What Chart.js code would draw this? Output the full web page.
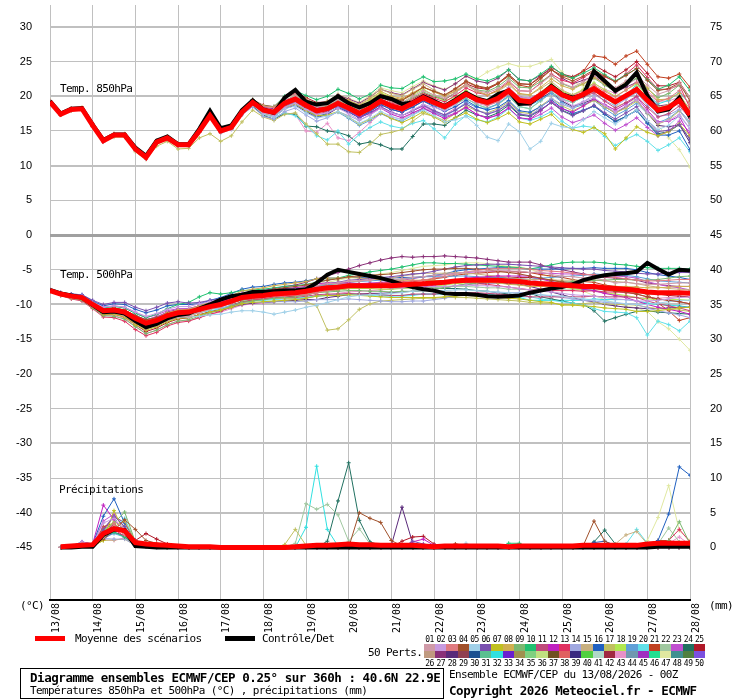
<!DOCTYPE html>
<html><head><meta charset="utf-8">
<script src="https://cdn.jsdelivr.net/npm/chart.js@4.4.1/dist/chart.umd.min.js"></script>
<style>
body{margin:0;background:#fff;width:740px;height:700px;overflow:hidden;position:relative;}
#c{position:absolute;left:0;top:0;}
.t{position:absolute;font-family:"DejaVu Sans Mono",monospace;font-size:11px;letter-spacing:-0.6px;line-height:12px;white-space:nowrap;color:#000;}
.b{font-weight:bold;font-size:12.5px;letter-spacing:-0.45px;line-height:14px;}
.n{position:absolute;font-family:"DejaVu Sans Mono",monospace;font-size:8px;letter-spacing:-0.5px;line-height:8px;text-align:center;width:11.24px;color:#000;}
.sw{position:absolute;width:11.24px;}
</style></head><body>
<canvas id="c" width="740" height="640"></canvas>
<div class="t" style="left:60px;top:83px">Temp. 850hPa</div>
<div class="t" style="left:60px;top:269px">Temp. 500hPa</div>
<div class="t" style="left:59px;top:484px">Précipitations</div>
<div class="t" style="left:20px;top:600px">(°C)</div>
<div class="t" style="left:709px;top:600px">(mm)</div>
<div style="position:absolute;left:35px;top:636px;width:30px;height:5px;background:#ff0000"></div>
<div class="t" style="left:75px;top:633px">Moyenne des scénarios</div>
<div style="position:absolute;left:225px;top:636px;width:30px;height:5px;background:#000"></div>
<div class="t" style="left:262px;top:633px">Contrôle/Det</div>
<div class="t" style="left:368px;top:647px">50 Perts.</div>
<div id="leg"></div>
<div style="position:absolute;left:20px;top:668px;width:422px;height:29px;border:1px solid #000"></div>
<div class="t b" style="left:30px;top:671px">Diagramme ensembles ECMWF/CEP 0.25° sur 360h : 40.6N 22.9E</div>
<div class="t" style="left:30px;top:685px">Températures 850hPa et 500hPa (°C) , précipitations (mm)</div>
<div class="t" style="left:449px;top:669px">Ensemble ECMWF/CEP du 13/08/2026 - 00Z</div>
<div class="t b" style="left:449px;top:684px">Copyright 2026 Meteociel.fr - ECMWF</div>
<script>
const dayLabels = ['13/08','14/08','15/08','16/08','17/08','18/08','19/08','20/08','21/08','22/08','23/08','24/08','25/08','26/08','27/08','28/08'];
const dayHours = [0,24,48,72,96,120,144,168,192,216,240,264,288,312,336,360];
const hours = [0,6,12,18,24,30,36,42,48,54,60,66,72,78,84,90,96,102,108,114,120,126,132,138,144,150,156,162,168,174,180,186,192,198,204,210,216,222,228,234,240,246,252,258,264,270,276,282,288,294,300,306,312,318,324,330,336,342,348,354,360];
const leftTicks = [30,25,20,15,10,5,0,-5,-10,-15,-20,-25,-30,-35,-40,-45];
const rightTicks = [75,70,65,60,55,50,45,40,35,30,25,20,15,10,5,0];

const t850Mean = [19.2,17.4,18.1,18.2,15.8,13.6,14.4,14.4,12.4,11.2,13.4,14.0,13.0,13.0,15.0,17.2,15.0,15.5,17.7,19.1,18.0,17.7,19.0,19.6,18.7,17.9,18.2,19.0,18.3,17.5,18.3,19.3,18.6,18.2,19.0,19.8,19.1,18.5,19.3,20.3,19.5,19.1,19.7,20.8,19.4,19.2,20.2,21.3,20.2,19.6,20.3,21.1,20.1,19.2,20.1,21.0,19.4,18.0,18.4,19.4,17.3];
const t850Ctrl = [19.3,17.5,18.2,18.3,15.9,13.7,14.5,14.5,12.6,11.4,13.6,14.2,13.1,13.1,15.3,17.9,15.4,15.8,18.0,19.4,18.1,17.6,19.8,20.9,19.2,18.8,19.0,20.0,19.0,18.4,19.0,20.0,19.6,18.9,19.1,20.0,19.3,18.6,19.5,20.5,19.7,19.3,20.3,20.8,18.9,19.0,20.1,21.5,20.3,19.8,20.2,23.6,22.2,20.8,21.7,23.4,20.1,17.8,18.1,19.8,17.0];
const t500Mean = [-8.0,-8.5,-8.8,-9.0,-10.0,-10.9,-10.8,-11.1,-12.0,-12.7,-12.3,-11.6,-11.2,-11.1,-10.7,-10.3,-10.0,-9.5,-9.0,-8.8,-8.7,-8.5,-8.4,-8.3,-8.1,-7.8,-7.6,-7.5,-7.3,-7.3,-7.3,-7.3,-7.3,-7.2,-7.1,-7.0,-6.9,-6.8,-6.6,-6.5,-6.5,-6.5,-6.5,-6.6,-6.7,-6.9,-7.0,-7.1,-7.2,-7.3,-7.4,-7.4,-7.6,-7.7,-7.8,-8.0,-8.2,-8.3,-8.3,-8.3,-8.4];
const t500Ctrl = [-7.9,-8.4,-8.7,-9.0,-10.1,-11.1,-11.0,-11.3,-12.4,-13.3,-12.8,-12.0,-11.5,-11.3,-10.6,-10.0,-9.3,-8.8,-8.6,-8.2,-8.2,-8.1,-8.0,-8.0,-7.8,-6.9,-5.7,-5.0,-5.3,-5.6,-5.9,-6.2,-6.6,-7.1,-7.5,-7.8,-8.0,-8.4,-8.5,-8.5,-8.6,-8.8,-8.9,-8.8,-8.7,-8.3,-8.0,-7.7,-7.5,-7.1,-6.5,-6.1,-5.8,-5.6,-5.5,-5.3,-4.0,-4.9,-5.7,-5.0,-5.1];
const precMean = [null,0.1,0.2,0.3,0.4,2.0,2.7,2.4,0.7,0.5,0.4,0.3,0.2,0.1,0.1,0.1,0,0,0,0,0,0,0,0.1,0.2,0.3,0.3,0.4,0.5,0.4,0.4,0.3,0.3,0.3,0.3,0.2,0.1,0.2,0.2,0.2,0.2,0.2,0.2,0.1,0.2,0.2,0.2,0.2,0.2,0.2,0.3,0.3,0.3,0.3,0.3,0.3,0.5,0.6,0.6,0.6,0.6];
const precCtrl = [null,0,0,0.1,0.1,1.8,2.6,2.5,0.2,0.1,0,0,0,0,0,0,0,0,0,0,0,0,0,0,0,0,0,0,0,0,0,0,0,0,0,0,0,0,0,0,0,0,0,0,0,0,0,0,0,0,0,0,0,0,0,0,0,0.1,0.1,0.1,0.1];

const memberIds = [1,2,3,4,5,6,7,8,9,10,11,12,13,14,15,16,17,18,19,20,21,22,23,24,25,27,28,32,43,47];

const t850Members = [
[19.3,17.6,18.1,18.3,16.1,13.8,14.4,14.5,12.7,11.4,13.5,14.0,13.2,13.1,15.3,17.4,15.1,15.5,17.9,19.3,18.3,18.0,19.4,20.0,19.2,18.4,18.8,19.5,18.9,18.2,19.0,20.1,19.5,19.1,20.0,20.8,20.2,19.7,20.5,21.6,20.8,20.5,21.1,22.3,20.8,20.7,21.8,23.0,21.9,21.3,22.1,23.0,22.0,21.2,22.2,23.0,21.6,20.3,20.8,21.9,19.8],
[19.0,17.3,18.0,18.0,15.6,13.4,14.3,14.2,12.2,11.0,13.3,13.8,12.8,12.9,14.8,17.0,14.8,15.3,17.4,18.8,17.6,17.2,18.4,19.0,18.1,17.4,17.6,18.3,17.5,16.6,17.3,18.3,17.6,17.2,18.0,18.8,18.4,17.9,18.9,20.1,19.5,19.3,20.0,21.2,19.9,19.7,20.3,21.0,19.6,18.6,19.2,19.8,18.7,17.7,18.6,19.5,17.7,16.2,16.5,17.4,15.3],
[19.2,17.5,18.3,18.2,15.9,13.5,14.6,14.5,12.5,11.3,13.6,14.1,13.1,13.2,15.1,17.3,15.2,15.7,17.9,19.4,18.5,18.4,19.8,20.4,19.5,18.7,18.9,19.7,18.9,18.1,18.9,19.9,19.2,18.7,19.5,20.3,19.5,18.8,19.4,20.2,19.2,18.7,19.2,20.3,18.9,18.7,19.9,21.2,20.2,19.8,20.6,21.6,20.7,19.9,20.9,22.0,20.5,19.2,19.7,20.8,18.8],
[19.2,17.4,18.2,18.3,15.7,13.5,14.3,14.4,12.3,11.1,13.3,14.0,12.9,12.9,14.9,17.1,15.0,15.4,17.6,19.0,17.8,17.5,18.8,19.3,18.4,17.6,18.1,19.1,18.6,17.9,18.9,20.1,19.6,19.4,20.3,21.3,20.7,20.2,21.1,22.2,21.5,21.2,21.9,23.1,21.8,21.7,22.7,23.8,22.8,22.2,22.9,23.8,22.9,22.1,23.0,24.0,22.3,20.8,21.1,21.9,19.3],
[19.1,17.3,18.0,18.1,15.7,13.5,14.5,14.3,12.3,11.2,13.3,13.9,12.9,12.9,14.8,17.0,14.9,15.3,17.4,18.7,17.4,17.0,18.2,18.6,17.6,16.9,17.1,17.8,17.0,16.1,16.8,17.8,17.1,16.6,17.3,18.0,17.2,16.3,16.6,17.1,15.8,14.1,13.6,16.0,14.9,12.4,13.5,16.1,15.6,15.4,16.6,17.8,16.9,16.0,17.0,18.0,16.5,15.2,15.8,17.2,15.3],
[19.3,17.5,18.1,18.2,15.9,13.7,14.4,14.3,12.5,11.3,13.4,14.1,13.1,13.0,15.1,17.3,15.1,15.6,17.8,19.0,17.9,17.6,18.8,19.4,18.5,17.8,17.9,18.6,17.8,16.9,17.6,18.5,17.7,17.2,17.9,18.7,17.9,17.3,18.0,18.9,18.0,17.4,17.9,18.9,17.4,17.2,18.1,19.1,17.9,17.2,17.9,18.7,17.6,16.7,17.6,18.5,16.5,14.9,15.1,15.9,13.8],
[19.1,17.3,18.0,18.1,15.7,13.5,14.3,14.3,12.3,11.1,13.2,13.8,12.8,12.8,14.8,17.0,14.8,15.3,17.5,18.8,17.5,17.2,18.4,18.9,17.9,17.2,17.3,17.8,17.0,16.0,16.7,17.6,16.8,16.2,16.9,17.8,17.0,16.2,16.9,17.6,16.7,16.2,16.8,17.6,16.3,16.0,16.7,17.4,15.9,15.2,14.8,15.5,14.6,12.4,14.0,15.6,14.8,14.3,14.9,16.0,14.3],
[19.4,17.6,18.3,18.4,16.0,13.8,14.6,14.6,12.6,11.4,13.6,14.2,13.2,13.2,15.2,17.5,15.3,15.8,18.0,19.5,18.6,18.4,19.8,20.5,19.6,18.9,19.2,20.1,19.4,18.7,19.6,20.7,20.0,19.7,20.5,21.3,20.6,20.0,20.7,21.6,20.7,20.2,20.8,21.9,20.4,20.2,21.3,22.5,21.5,21.0,21.8,22.7,21.8,21.0,22.0,23.0,21.2,19.5,19.6,20.4,17.8],
[19.2,17.4,18.2,18.3,15.9,13.7,14.5,14.5,12.5,11.3,13.5,14.1,13.1,13.1,15.1,17.3,15.1,15.6,17.8,19.2,18.1,17.9,19.2,19.8,18.9,18.1,18.6,19.4,18.8,18.0,18.8,19.9,19.3,19.0,19.8,20.6,20.0,19.6,20.5,21.6,20.9,20.7,21.4,22.6,21.3,21.2,22.1,23.0,21.8,21.2,21.8,22.6,21.6,20.7,21.7,22.6,21.1,19.8,20.4,21.6,19.8],
[19.3,17.5,18.2,18.3,15.9,13.7,14.5,14.5,12.5,11.3,13.5,14.1,13.1,13.1,15.2,17.4,15.2,15.7,18.0,19.5,18.6,18.5,20.0,20.8,20.1,19.5,20.0,21.0,20.4,19.6,20.3,21.6,21.2,21.1,22.0,22.8,22.1,22.2,22.5,23.2,22.5,22.2,22.8,23.8,22.4,22.2,23.2,24.3,23.2,22.6,23.3,24.1,23.1,22.2,23.1,24.0,22.4,21.0,21.6,22.8,20.8],
[19.1,17.3,18.0,18.1,15.7,13.5,14.3,14.4,12.4,11.1,13.4,14.0,12.9,12.9,14.9,17.1,14.9,15.4,17.6,18.9,17.7,17.3,18.6,19.2,18.2,17.4,17.8,18.7,18.0,17.2,18.0,19.0,18.3,17.9,18.7,19.5,18.9,18.3,19.2,20.3,19.6,19.3,20.0,21.2,19.9,19.7,20.5,21.4,20.1,19.3,19.9,20.5,19.3,18.3,19.1,20.0,18.4,17.0,17.5,18.6,16.8],
[19.3,17.5,18.2,18.2,15.9,13.6,14.5,14.4,12.5,11.2,13.4,14.0,13.0,13.1,15.1,17.3,15.1,15.6,17.8,19.3,18.3,18.1,19.4,20.0,19.1,18.4,18.4,18.9,18.0,17.0,17.5,18.3,17.4,16.9,17.6,18.3,17.5,16.8,17.5,18.4,17.4,16.8,17.3,18.3,16.9,16.7,17.9,19.2,18.2,17.7,18.6,19.6,18.8,18.0,18.9,19.9,18.0,16.3,16.4,17.1,14.3],
[19.2,17.4,18.1,18.1,15.7,13.5,14.4,14.3,12.3,11.1,13.3,13.9,12.9,13.0,14.9,17.1,14.9,15.4,17.6,18.9,17.8,17.5,18.7,19.3,18.4,17.6,18.0,18.9,18.3,17.6,18.5,19.6,19.0,18.7,19.5,20.3,19.7,19.2,20.1,21.2,20.5,20.2,20.9,22.1,20.8,20.7,21.9,23.2,22.3,21.9,22.7,23.6,22.8,22.1,23.2,24.5,22.7,21.0,21.0,21.6,18.3],
[19.1,17.3,18.0,18.1,15.6,13.4,14.3,14.2,12.2,11.0,13.2,13.8,12.8,12.8,14.8,16.9,14.7,15.2,17.3,18.5,17.1,16.7,17.8,18.3,17.3,16.4,16.9,17.8,17.2,16.5,17.3,18.3,17.6,17.2,18.0,18.8,18.0,17.3,18.0,18.9,18.0,17.5,18.0,19.0,17.5,17.2,18.4,19.7,18.8,18.3,19.2,20.2,19.4,18.6,19.6,20.5,18.7,17.1,17.3,18.1,15.8],
[19.2,17.5,18.1,18.2,15.8,13.6,14.4,14.5,12.5,11.3,13.4,14.0,13.0,13.1,15.0,17.2,15.1,15.6,17.8,19.2,18.1,17.8,19.2,19.8,18.9,18.2,18.8,19.9,19.4,18.8,19.8,21.0,20.4,20.1,21.0,21.8,20.9,20.1,20.8,21.7,20.8,20.2,20.7,21.7,20.3,20.2,21.1,22.1,20.9,20.2,20.8,21.5,20.3,19.3,20.1,21.0,19.6,18.3,18.8,19.9,18.3],
[19.2,17.4,18.0,18.2,15.8,13.6,14.4,14.4,12.4,11.2,13.3,14.0,13.0,12.9,15.0,17.1,14.9,15.4,17.5,18.8,17.6,17.2,18.4,18.9,17.9,17.1,17.5,18.4,17.7,16.9,17.8,18.8,18.1,17.7,18.4,19.3,18.5,17.8,18.5,19.4,18.5,18.0,18.4,19.4,17.9,17.7,18.5,19.5,18.3,17.5,18.0,18.6,17.4,16.3,17.1,17.9,16.1,14.4,14.4,15.0,12.3],
[19.1,17.3,17.9,18.0,15.6,13.4,14.1,14.1,12.0,10.9,12.8,13.5,12.4,12.5,14.0,14.6,13.5,14.3,16.3,18.0,17.0,16.5,17.4,17.6,16.0,14.6,13.1,13.1,12.0,11.9,13.1,14.5,14.8,15.2,16.4,17.5,17.1,16.5,17.5,18.6,17.9,17.6,18.2,19.2,17.7,17.5,18.6,19.7,18.6,17.9,18.6,19.4,18.5,17.6,18.3,19.3,17.6,16.0,16.6,17.9,16.0],
[19.3,17.5,18.2,18.3,15.9,13.7,14.5,14.5,12.6,11.4,13.5,14.1,13.1,13.1,15.1,17.3,15.1,15.6,17.8,19.2,18.2,18.0,19.4,20.1,19.2,18.5,18.9,19.8,19.2,18.5,19.4,20.5,19.8,19.4,20.2,21.0,20.1,19.3,19.9,20.8,19.9,19.4,20.0,21.1,19.7,19.5,20.6,21.8,20.7,20.2,21.0,21.9,20.9,20.0,20.9,21.8,20.0,18.4,18.6,19.3,16.8],
[19.2,17.4,18.1,18.2,15.8,13.6,14.3,14.4,12.4,11.2,13.4,14.0,13.0,13.0,14.9,17.2,15.0,15.5,17.7,19.0,17.8,17.4,18.6,19.1,18.0,17.2,17.2,17.7,16.8,15.8,16.5,17.5,16.8,16.4,17.3,18.2,17.6,17.1,18.0,19.1,18.4,18.2,18.9,20.1,18.8,18.7,19.5,20.4,19.1,18.3,18.8,19.4,18.2,17.2,18.0,19.0,17.5,16.2,16.8,18.0,16.3],
[19.2,17.4,18.1,18.2,15.8,13.5,14.4,14.3,12.4,11.2,13.3,13.9,12.9,13.0,14.9,17.0,14.9,15.4,17.5,18.8,17.5,17.0,17.6,17.2,15.8,14.3,13.7,15.0,13.1,14.5,15.5,16.3,15.7,15.4,16.1,16.5,15.3,14.0,16.0,17.2,16.6,16.3,17.0,18.2,16.9,16.5,17.0,17.8,16.4,15.4,15.7,15.5,14.2,12.9,13.8,14.5,13.5,12.2,13.0,14.0,12.0],
[19.3,17.5,18.1,18.3,15.9,13.7,14.4,14.5,12.4,11.3,13.5,14.0,13.1,13.1,15.1,17.3,15.1,15.6,17.8,19.2,18.2,17.9,19.3,19.9,19.1,18.4,18.8,19.7,19.1,18.4,19.3,20.4,19.8,19.5,20.4,21.3,20.7,20.1,21.0,22.1,21.4,21.1,21.8,22.9,21.6,21.3,22.5,23.8,23.0,22.6,23.6,25.8,25.6,24.6,25.8,26.5,24.6,22.8,22.6,23.2,21.3],
[19.1,17.3,18.0,18.1,15.7,13.5,14.4,14.3,12.3,11.1,13.3,13.9,12.9,12.9,14.9,17.1,14.9,15.4,17.6,18.9,17.7,17.3,18.5,19.0,18.1,17.3,17.7,18.6,17.9,17.2,18.1,19.1,18.4,18.0,18.8,19.6,18.8,18.1,18.8,19.7,18.8,18.3,18.8,19.9,18.5,18.2,19.3,20.5,19.6,19.1,19.9,20.8,19.9,19.1,20.2,21.4,19.6,18.1,18.5,19.4,17.3],
[19.2,17.5,18.2,18.2,15.8,13.6,14.5,14.4,12.4,11.3,13.4,14.0,13.1,13.0,15.0,17.3,15.1,15.5,17.7,19.1,18.0,17.8,19.1,19.7,18.8,17.9,17.9,18.6,17.8,16.9,17.6,18.5,17.7,17.2,17.9,18.6,17.8,17.0,17.6,18.4,17.4,16.9,17.3,18.3,16.8,16.7,17.4,18.3,17.0,16.2,16.7,17.3,16.1,15.1,15.9,16.9,15.5,14.3,15.0,16.4,14.8],
[19.2,17.4,18.1,18.2,15.8,13.6,14.4,14.4,12.4,11.2,13.4,14.0,13.0,13.0,15.0,17.2,15.0,15.4,17.5,18.6,17.2,16.7,17.5,17.4,15.7,15.6,15.0,14.8,14.3,13.1,13.4,13.0,12.4,12.4,14.2,16.0,16.0,15.8,16.9,18.0,17.3,17.0,17.6,18.7,17.3,17.1,18.0,19.1,18.0,17.3,17.9,18.6,17.4,16.4,17.1,18.0,16.2,14.6,14.9,15.9,13.8],
[19.3,17.5,18.2,18.3,15.9,13.7,14.5,14.5,12.6,11.3,13.5,14.1,13.1,13.2,15.2,17.4,15.2,15.7,18.0,19.5,18.7,18.5,19.9,20.6,19.8,19.1,19.2,19.8,19.0,18.1,18.9,19.9,19.2,18.8,19.6,20.4,19.9,19.5,20.5,21.8,21.2,21.0,21.8,23.1,21.8,21.7,22.9,24.2,23.2,22.8,23.6,24.5,23.6,22.8,23.8,25.0,23.3,21.5,21.5,22.0,19.8],
[19.3,17.5,18.1,18.2,15.9,13.7,14.5,14.4,12.5,11.3,13.5,14.1,13.1,13.1,15.1,17.3,15.1,15.6,17.9,19.4,18.4,18.2,19.7,20.4,19.6,18.7,19.2,20.2,19.6,19.0,19.9,21.0,20.5,20.2,21.1,22.0,21.4,20.9,21.8,22.9,22.2,21.9,22.6,23.8,22.4,22.2,23.0,23.9,22.6,21.8,22.3,22.9,21.7,20.6,21.3,22.0,20.2,18.6,18.8,19.6,16.8],
[19.1,17.3,18.0,18.1,15.7,13.5,14.3,14.3,12.3,11.1,13.3,13.9,12.9,12.9,14.9,17.1,14.9,15.3,17.4,18.7,17.4,17.0,18.2,18.7,17.8,16.9,17.4,18.3,17.7,17.0,17.8,18.8,18.1,17.7,18.5,19.3,18.7,18.1,19.0,20.0,19.2,18.8,19.4,20.5,19.1,18.9,19.7,20.6,19.3,18.5,19.0,19.6,18.5,17.6,18.5,19.5,17.6,15.8,15.6,15.9,13.3],
[19.2,17.4,18.1,18.2,15.8,13.6,14.4,14.5,12.4,11.2,13.4,14.0,13.0,13.0,15.0,17.2,15.0,15.5,17.7,19.1,18.0,17.7,19.0,19.6,18.7,17.9,18.3,19.2,18.5,17.8,18.6,19.6,18.9,18.4,19.1,19.8,18.9,18.2,18.9,19.7,18.8,18.3,18.9,20.0,18.5,18.2,19.4,20.6,19.6,19.1,19.9,20.8,19.8,18.9,19.9,21.8,20.2,18.9,19.4,20.6,18.8],
[19.2,17.4,18.1,18.2,15.8,13.5,14.3,14.3,12.3,11.1,13.3,13.9,12.9,12.9,14.8,17.0,14.8,15.3,17.4,18.5,17.2,16.7,17.6,17.4,15.0,14.8,16.1,14.0,13.6,14.8,16.2,17.5,17.0,16.7,17.5,18.3,17.8,17.3,18.3,19.6,19.0,18.6,19.2,20.3,18.9,18.7,19.9,21.3,20.4,20.0,20.9,21.8,21.0,20.4,21.6,22.5,20.8,19.3,19.3,19.9,17.8],
[19.2,17.5,18.1,18.3,15.8,13.6,14.4,14.5,12.5,11.2,13.4,14.1,13.1,13.0,15.1,17.3,15.1,15.6,17.8,19.2,18.3,18.1,19.6,20.4,19.5,18.8,19.3,20.3,19.7,19.1,20.1,21.2,20.8,20.5,21.4,22.2,21.5,21.0,21.8,22.9,22.5,23.5,24.2,24.7,24.3,24.3,24.8,25.3,23.5,22.0,21.5,21.6,20.0,18.6,19.0,19.6,17.5,15.8,14.0,12.3,9.8]
];

const t500Members = [
[-7.9,-8.5,-8.9,-9.0,-10.2,-11.2,-11.2,-11.6,-12.6,-13.5,-13.0,-12.3,-11.8,-11.7,-11.2,-10.7,-10.3,-9.7,-9.1,-8.8,-8.6,-8.3,-8.3,-7.9,-7.6,-7.3,-7.0,-6.9,-6.6,-6.6,-6.5,-6.2,-6.4,-6.3,-6.1,-6.0,-5.8,-5.7,-5.6,-5.3,-5.2,-5.2,-5.1,-5.2,-5.2,-5.4,-5.3,-5.7,-5.9,-6.0,-6.2,-6.2,-6.5,-6.9,-6.8,-7.0,-7.1,-7.1,-7.0,-6.9,-6.9],
[-8.1,-8.4,-8.6,-8.8,-9.7,-10.4,-10.2,-10.4,-11.1,-11.7,-11.3,-10.7,-10.3,-10.3,-9.9,-9.6,-9.3,-8.9,-8.4,-8.3,-8.2,-8.1,-8.0,-7.9,-7.8,-7.5,-7.4,-7.4,-7.3,-7.4,-7.4,-7.5,-7.6,-7.6,-7.5,-7.5,-7.4,-7.4,-7.3,-7.2,-7.3,-7.3,-7.4,-7.5,-7.7,-7.9,-8.1,-8.2,-8.4,-8.6,-8.7,-8.8,-9.0,-9.2,-9.3,-9.5,-9.5,-9.4,-9.2,-9.0,-8.9],
[-8.0,-8.6,-8.9,-9.1,-10.2,-11.1,-11.1,-11.4,-12.4,-13.2,-12.6,-11.7,-11.1,-10.9,-10.4,-10.1,-9.9,-9.5,-9.1,-9.0,-9.0,-8.8,-8.8,-8.7,-8.6,-8.3,-8.0,-7.8,-7.5,-7.4,-7.3,-7.1,-7.0,-6.8,-6.6,-6.5,-6.2,-6.0,-5.6,-5.3,-5.1,-4.9,-4.8,-4.8,-4.8,-4.9,-5.1,-5.2,-5.3,-5.5,-5.7,-5.7,-6.0,-6.1,-6.3,-6.5,-6.6,-6.6,-6.5,-6.4,-6.4],
[-8.0,-8.4,-8.7,-8.9,-9.8,-10.7,-10.5,-10.8,-11.6,-12.2,-11.9,-11.4,-11.2,-11.3,-11.0,-10.4,-9.9,-9.2,-8.6,-8.3,-8.1,-7.8,-7.6,-7.4,-7.2,-6.8,-6.5,-6.3,-6.0,-5.9,-5.8,-5.7,-5.6,-5.4,-5.2,-5.0,-4.9,-4.9,-4.8,-4.8,-4.9,-5.0,-5.2,-5.4,-5.6,-5.9,-6.2,-6.5,-6.8,-7.1,-7.4,-7.6,-7.9,-8.1,-8.2,-8.5,-8.9,-9.2,-9.4,-9.6,-9.9],
[-8.1,-8.6,-8.9,-9.1,-10.1,-11.0,-11.0,-11.3,-12.2,-13.0,-12.7,-12.1,-11.8,-11.8,-11.7,-11.5,-11.4,-11.1,-10.9,-10.9,-11.1,-11.4,-11.1,-10.8,-10.4,-10.1,-9.7,-9.3,-8.9,-8.7,-8.6,-8.5,-8.4,-8.3,-8.1,-8.0,-8.0,-8.0,-7.9,-7.9,-8.0,-8.1,-8.2,-8.3,-8.4,-8.4,-8.6,-8.7,-8.8,-9.0,-9.2,-9.3,-9.5,-9.7,-9.9,-10.0,-10.0,-9.8,-9.6,-9.4,-9.4],
[-7.9,-8.3,-8.5,-8.6,-9.4,-10.0,-9.7,-9.7,-10.4,-10.9,-10.4,-9.8,-9.6,-9.8,-9.7,-9.4,-9.2,-8.8,-8.4,-8.1,-8.0,-7.8,-7.8,-7.7,-7.6,-7.3,-7.0,-6.8,-6.5,-6.4,-6.3,-6.1,-6.0,-5.8,-5.6,-5.5,-5.2,-4.9,-4.6,-4.4,-4.3,-4.2,-4.2,-4.2,-4.3,-4.4,-4.5,-4.6,-4.7,-4.8,-4.9,-4.9,-5.1,-5.2,-5.3,-5.5,-5.6,-5.6,-5.5,-5.4,-5.4],
[-8.1,-8.6,-9.0,-9.2,-10.3,-11.4,-11.4,-11.8,-12.9,-13.7,-13.2,-12.5,-12.0,-11.9,-11.5,-11.1,-10.8,-10.4,-9.9,-9.7,-9.6,-9.5,-9.4,-9.3,-9.1,-8.8,-8.7,-8.7,-8.6,-8.7,-8.8,-8.9,-9.0,-9.0,-9.0,-9.0,-9.0,-8.9,-8.8,-8.7,-8.8,-8.9,-9.0,-9.1,-9.2,-9.4,-9.6,-9.7,-10.1,-10.1,-10.2,-10.3,-10.5,-10.6,-10.7,-11.0,-11.0,-10.9,-10.7,-10.5,-10.4],
[-8.0,-8.5,-8.8,-8.9,-9.9,-10.8,-10.6,-10.9,-11.8,-12.4,-12.0,-11.2,-10.8,-10.7,-10.2,-9.7,-9.3,-8.7,-8.1,-7.8,-7.6,-7.3,-7.1,-6.9,-6.7,-6.3,-6.2,-6.2,-6.1,-6.2,-6.3,-6.4,-6.5,-6.5,-6.5,-6.5,-6.5,-6.6,-6.6,-6.6,-6.7,-6.8,-6.9,-7.1,-7.2,-7.4,-7.4,-7.4,-7.4,-7.4,-7.4,-7.3,-7.4,-7.4,-7.4,-7.5,-7.6,-7.6,-7.5,-7.4,-7.4],
[-8.1,-8.7,-9.1,-9.4,-10.5,-11.6,-11.7,-12.1,-13.2,-14.2,-13.7,-12.9,-12.4,-12.2,-11.7,-11.2,-10.8,-10.2,-9.7,-9.5,-9.3,-9.1,-9.0,-8.9,-8.6,-8.3,-8.2,-8.1,-8.0,-8.0,-8.1,-8.1,-8.2,-8.1,-8.1,-8.0,-7.8,-7.6,-7.3,-7.1,-6.9,-6.8,-6.7,-6.7,-6.7,-6.9,-6.8,-6.8,-6.8,-6.7,-6.6,-6.5,-6.5,-6.4,-6.4,-6.5,-6.5,-6.4,-6.2,-6.0,-5.9],
[-8.0,-8.4,-8.6,-8.8,-9.7,-10.5,-10.3,-10.5,-11.3,-11.9,-11.4,-10.6,-10.0,-9.7,-8.9,-8.3,-8.5,-8.3,-8.0,-7.9,-7.8,-7.6,-7.4,-7.3,-7.1,-6.8,-6.5,-6.2,-5.8,-5.6,-5.3,-5.1,-4.9,-4.6,-4.3,-4.0,-4.0,-4.1,-4.1,-4.2,-4.3,-4.4,-4.5,-4.6,-4.7,-4.9,-4.6,-4.3,-4.0,-3.9,-3.9,-3.9,-4.0,-4.2,-4.3,-4.5,-4.7,-4.8,-4.8,-4.8,-4.9],
[-8.0,-8.5,-8.9,-9.1,-10.1,-11.0,-11.0,-11.3,-12.3,-13.0,-12.6,-11.8,-11.3,-11.1,-10.7,-10.4,-10.2,-9.8,-9.3,-9.2,-9.2,-9.0,-9.0,-9.0,-8.8,-8.6,-8.5,-8.5,-8.4,-8.5,-8.5,-8.6,-8.7,-8.7,-8.5,-8.5,-8.5,-8.4,-8.3,-8.3,-8.3,-8.4,-8.5,-8.6,-8.7,-8.9,-8.9,-8.9,-8.9,-8.9,-8.9,-8.8,-8.9,-8.9,-8.9,-9.0,-9.5,-9.9,-10.2,-10.5,-10.9],
[-7.9,-8.4,-8.7,-8.9,-9.8,-10.7,-10.6,-10.8,-11.6,-12.2,-11.8,-11.2,-10.8,-10.8,-10.4,-10.0,-9.6,-9.1,-8.5,-8.3,-8.1,-7.9,-7.7,-7.6,-7.4,-7.0,-6.9,-6.9,-6.9,-7.0,-7.1,-7.2,-7.3,-7.4,-7.5,-7.5,-7.2,-6.9,-6.5,-6.2,-6.1,-6.0,-5.9,-5.9,-5.9,-5.9,-6.3,-6.7,-7.0,-7.4,-7.8,-8.0,-8.4,-8.7,-9.0,-9.5,-10.0,-10.4,-10.7,-11.0,-11.4],
[-8.1,-8.7,-9.2,-9.5,-10.6,-11.8,-11.9,-12.4,-13.6,-14.5,-14.0,-13.1,-12.6,-12.4,-11.9,-11.4,-11.0,-10.3,-9.7,-9.4,-9.2,-8.9,-8.7,-8.5,-8.3,-8.1,-7.7,-7.5,-7.2,-7.1,-7.0,-6.9,-6.8,-6.7,-6.6,-6.5,-6.6,-6.7,-6.7,-6.8,-7.0,-7.1,-7.3,-7.5,-7.7,-7.9,-7.9,-8.0,-8.0,-8.0,-8.1,-8.0,-8.2,-8.2,-8.3,-8.5,-8.9,-9.2,-9.4,-9.6,-9.9],
[-8.0,-8.4,-8.8,-8.9,-9.9,-10.8,-10.7,-11.0,-11.9,-12.5,-12.2,-11.6,-11.3,-11.3,-10.9,-10.6,-10.5,-10.1,-9.8,-9.7,-9.7,-9.6,-9.6,-9.6,-9.5,-9.3,-9.3,-9.3,-9.2,-9.3,-9.4,-9.5,-9.6,-9.6,-9.5,-9.5,-9.3,-9.1,-8.8,-8.6,-8.5,-8.4,-8.3,-8.3,-8.3,-8.4,-8.6,-8.8,-9.0,-9.2,-9.4,-9.5,-9.7,-9.8,-9.9,-10.0,-10.5,-10.9,-11.2,-11.5,-11.9],
[-8.0,-8.6,-8.9,-9.2,-10.3,-11.3,-11.3,-11.7,-12.7,-13.5,-13.0,-12.3,-11.8,-11.6,-11.2,-10.7,-10.4,-9.8,-9.3,-9.0,-8.8,-8.6,-8.4,-8.3,-8.0,-7.6,-7.3,-7.1,-6.8,-6.6,-6.5,-6.3,-6.2,-5.9,-5.7,-5.5,-5.5,-5.5,-5.4,-5.5,-5.6,-5.8,-5.9,-6.1,-6.3,-6.4,-6.4,-6.5,-6.5,-6.5,-6.5,-6.5,-6.6,-6.7,-6.8,-7.0,-7.3,-7.5,-7.7,-7.8,-7.9],
[-7.9,-8.3,-8.5,-8.6,-9.5,-10.2,-9.9,-10.0,-10.7,-11.2,-10.8,-10.2,-10.0,-10.0,-9.9,-9.4,-9.0,-8.4,-7.8,-7.5,-7.4,-7.1,-6.9,-6.8,-6.6,-6.3,-6.2,-6.2,-6.1,-6.1,-6.2,-6.2,-6.2,-6.1,-6.1,-6.0,-5.8,-5.6,-5.2,-5.0,-4.9,-4.8,-4.7,-4.7,-4.8,-4.9,-4.9,-4.9,-4.9,-4.8,-4.8,-4.7,-4.8,-4.8,-4.8,-5.0,-5.4,-5.7,-5.9,-6.1,-6.4],
[-8.1,-8.6,-8.9,-9.1,-10.1,-11.0,-10.9,-11.3,-12.2,-13.0,-12.6,-11.9,-11.5,-11.3,-10.9,-10.6,-10.3,-9.8,-9.4,-9.2,-9.2,-9.1,-9.1,-9.2,-9.6,-10.2,-13.7,-13.5,-12.2,-10.7,-9.9,-9.5,-9.4,-9.3,-9.2,-9.1,-9.1,-9.0,-9.0,-9.0,-9.1,-9.2,-9.3,-9.4,-9.5,-9.7,-9.8,-9.8,-10.0,-10.0,-9.9,-9.7,-9.9,-10.0,-10.0,-10.1,-10.4,-10.6,-10.7,-10.8,-11.0],
[-7.9,-8.4,-8.7,-8.9,-9.9,-10.7,-10.6,-10.9,-11.7,-12.2,-11.8,-11.2,-10.9,-10.8,-10.4,-10.0,-9.8,-9.4,-8.9,-8.8,-8.8,-8.6,-8.6,-8.5,-8.4,-8.1,-7.9,-7.9,-7.7,-7.7,-7.7,-7.8,-7.8,-7.7,-7.6,-7.5,-7.4,-7.2,-7.0,-6.9,-6.8,-6.7,-6.6,-6.7,-6.7,-6.9,-7.1,-7.3,-7.5,-7.7,-7.9,-8.0,-8.3,-8.5,-8.7,-9.0,-9.2,-9.3,-9.3,-9.3,-9.4],
[-8.0,-8.6,-8.9,-9.1,-10.1,-11.1,-11.0,-11.4,-12.4,-13.2,-12.8,-12.0,-11.5,-11.4,-11.0,-10.5,-10.2,-9.6,-9.1,-8.8,-8.6,-8.3,-8.2,-8.0,-7.8,-7.5,-7.2,-7.0,-6.8,-6.7,-6.6,-6.5,-6.5,-6.3,-6.2,-6.0,-6.0,-6.0,-5.9,-5.9,-6.0,-6.1,-6.1,-6.2,-6.3,-6.4,-6.2,-6.1,-6.0,-5.9,-5.8,-5.6,-5.7,-5.8,-5.8,-6.0,-6.3,-6.6,-6.7,-6.8,-6.9],
[-8.0,-8.5,-8.8,-9.0,-10.1,-11.0,-11.0,-11.3,-12.2,-12.8,-12.5,-11.8,-11.5,-11.5,-11.2,-10.9,-10.6,-10.2,-9.7,-9.5,-9.4,-9.3,-9.2,-9.2,-9.0,-8.8,-8.7,-8.6,-8.5,-8.6,-8.7,-8.8,-8.8,-8.8,-8.7,-8.5,-8.5,-8.5,-8.4,-8.4,-8.5,-8.6,-8.7,-8.8,-8.9,-8.9,-9.2,-9.4,-9.6,-9.8,-10.0,-10.6,-11.0,-11.1,-11.2,-11.9,-14.4,-12.4,-12.9,-13.8,-12.4],
[-8.0,-8.4,-8.8,-9.0,-9.9,-10.8,-10.7,-11.0,-11.8,-12.4,-12.0,-11.3,-10.9,-10.8,-10.4,-10.0,-9.8,-9.3,-8.9,-8.7,-8.7,-8.5,-8.4,-8.3,-8.1,-7.8,-7.5,-7.4,-7.2,-7.1,-7.1,-7.0,-7.0,-6.9,-6.7,-6.5,-6.3,-6.1,-5.8,-5.6,-5.5,-5.4,-5.3,-5.3,-5.3,-5.4,-5.7,-5.9,-6.1,-6.4,-6.7,-6.8,-7.2,-7.4,-7.6,-7.5,-8.5,-9.8,-10.9,-12.3,-11.9],
[-8.0,-8.5,-8.8,-9.1,-10.1,-11.0,-10.9,-11.3,-12.2,-13.0,-12.6,-11.8,-11.3,-11.1,-10.7,-10.2,-9.9,-9.3,-8.8,-8.5,-8.4,-8.1,-8.0,-7.9,-7.7,-7.3,-7.2,-7.1,-7.0,-7.1,-7.2,-7.3,-7.4,-7.4,-7.4,-7.5,-7.5,-7.5,-7.4,-7.4,-7.5,-7.6,-7.6,-7.8,-7.8,-7.9,-7.9,-7.9,-7.9,-7.9,-7.9,-7.8,-7.9,-8.0,-8.1,-8.3,-8.5,-8.5,-8.4,-8.4,-8.4],
[-7.9,-8.4,-8.6,-8.8,-9.7,-10.4,-10.2,-10.4,-11.1,-11.9,-11.5,-10.9,-10.6,-10.6,-10.2,-9.9,-9.7,-9.3,-8.9,-8.8,-8.8,-8.7,-8.7,-8.6,-8.4,-8.1,-7.7,-7.5,-7.2,-7.0,-6.9,-6.8,-6.7,-6.5,-6.3,-6.0,-5.9,-5.7,-5.5,-5.4,-5.3,-5.3,-5.2,-5.2,-5.3,-5.4,-5.5,-5.5,-5.6,-5.6,-5.7,-5.7,-5.8,-5.9,-6.0,-6.2,-6.7,-7.1,-7.4,-7.6,-7.9],
[-8.0,-8.5,-8.8,-9.0,-10.0,-10.9,-10.8,-11.0,-11.9,-12.6,-12.2,-11.5,-11.0,-10.9,-10.4,-10.1,-9.8,-9.3,-8.9,-8.6,-8.5,-8.3,-8.1,-8.0,-7.7,-7.3,-7.2,-7.2,-7.1,-7.3,-7.4,-7.5,-7.6,-7.6,-7.6,-7.5,-7.6,-7.7,-7.7,-7.8,-8.0,-8.1,-8.3,-8.5,-8.6,-8.4,-8.9,-9.2,-9.5,-9.8,-10.0,-10.9,-12.4,-11.9,-11.4,-11.0,-10.9,-11.1,-11.2,-11.3,-11.4],
[-8.1,-8.6,-9.0,-9.3,-10.4,-11.4,-11.4,-11.8,-12.9,-13.9,-13.4,-12.6,-12.1,-11.9,-11.5,-11.0,-10.7,-10.1,-9.6,-9.4,-9.3,-9.0,-8.9,-8.8,-8.6,-8.3,-8.0,-7.9,-7.7,-7.6,-7.6,-7.5,-7.5,-7.4,-7.2,-7.0,-6.9,-6.7,-6.5,-6.3,-6.2,-6.1,-6.1,-6.1,-6.1,-6.1,-6.3,-6.5,-6.7,-6.9,-7.1,-7.2,-7.5,-7.7,-7.8,-7.7,-8.2,-8.5,-8.7,-8.8,-8.9],
[-7.9,-8.4,-8.7,-8.9,-9.8,-10.7,-10.5,-10.8,-11.6,-12.2,-11.8,-11.1,-10.7,-10.6,-10.2,-9.8,-9.5,-9.0,-8.5,-8.2,-8.0,-7.7,-7.4,-7.2,-6.8,-6.3,-5.9,-5.4,-4.9,-4.4,-4.0,-3.6,-3.3,-3.1,-3.2,-3.1,-3.1,-3.0,-3.1,-3.2,-3.3,-3.5,-3.7,-3.9,-3.9,-3.9,-4.3,-4.7,-5.0,-5.3,-5.6,-5.8,-6.1,-6.2,-6.3,-6.5,-6.9,-7.1,-7.3,-7.4,-7.4],
[-8.0,-8.6,-8.9,-9.2,-10.2,-11.1,-11.0,-11.4,-12.4,-13.2,-12.9,-12.3,-11.9,-11.9,-11.5,-11.1,-10.9,-10.4,-10.0,-9.8,-9.7,-9.6,-9.5,-9.4,-9.3,-9.3,-9.0,-8.8,-8.6,-8.5,-8.4,-8.4,-8.3,-8.2,-8.1,-8.0,-7.8,-7.6,-7.3,-7.1,-7.0,-6.9,-6.9,-7.0,-7.1,-7.4,-7.8,-8.2,-8.6,-9.0,-9.4,-9.6,-10.0,-10.2,-10.4,-10.5,-10.6,-10.6,-10.5,-10.4,-10.4],
[-8.0,-8.5,-8.8,-9.0,-9.9,-10.8,-10.7,-11.0,-11.8,-12.4,-12.0,-11.4,-11.1,-11.1,-10.7,-10.4,-10.2,-9.8,-9.4,-9.3,-9.3,-9.2,-9.1,-9.1,-9.0,-8.8,-8.7,-8.6,-8.5,-8.5,-8.6,-8.6,-8.7,-8.7,-8.6,-8.5,-8.5,-8.5,-8.4,-8.4,-8.5,-8.6,-8.7,-8.9,-9.0,-9.4,-9.4,-9.4,-9.4,-9.4,-9.4,-9.2,-9.3,-9.3,-9.3,-9.5,-9.8,-10.0,-10.1,-10.2,-10.4],
[-8.1,-8.7,-9.1,-9.4,-10.5,-11.6,-11.6,-12.0,-13.1,-14.2,-13.7,-12.9,-12.4,-12.3,-11.9,-11.4,-11.1,-10.6,-10.1,-9.9,-9.8,-9.6,-9.4,-9.3,-9.1,-8.8,-8.6,-8.4,-8.2,-8.1,-8.0,-7.9,-7.8,-7.6,-7.5,-7.5,-7.3,-7.1,-6.8,-6.6,-6.4,-6.3,-6.2,-6.2,-6.3,-6.4,-6.7,-7.0,-7.3,-7.6,-7.9,-8.1,-8.4,-8.6,-8.8,-9.0,-9.1,-9.1,-9.0,-8.9,-8.9],
[-8.0,-8.5,-8.8,-9.0,-10.0,-10.9,-10.8,-11.1,-12.0,-12.7,-12.3,-11.5,-11.0,-10.9,-10.2,-9.9,-9.6,-9.2,-8.7,-8.4,-8.2,-8.0,-7.8,-7.6,-7.3,-7.0,-6.8,-6.5,-6.2,-6.0,-5.9,-5.6,-5.4,-5.1,-4.8,-4.5,-4.4,-4.3,-4.1,-4.0,-4.0,-4.1,-4.3,-4.5,-4.6,-4.9,-5.5,-6.2,-6.8,-7.4,-8.1,-8.7,-9.3,-9.8,-10.2,-10.5,-11.0,-12.5,-13.5,-15.0,-16.6]
];

const precMembers = [
[null,0,0.1,0.5,0.3,1.5,3.0,2.0,0.5,0.3,0.2,0.1,0,0,0,0,0,0,0,0,0,0,0,0,0,0,0,0,0,0,0,0,0,0,0,0,0,0,0,0,0,0,0,0,0,0,0,0,0,0,0,0,0,0,0,0,0,0,0,0,0],
[null,0,0.2,0.8,0.4,3.5,4.2,2.5,0.8,0.5,0.3,0.1,0,0,0,0,0,0,0,0,0,0,0,0,0,0,0,0,0,0,0,0,0,0,0,0,0,0,0,0,0,0,0,0,0,0,0,0,0,0,0,0,0,0,0,0,0,0,0,0,0.2],
[null,0,0.1,0.4,0.3,2.0,3.5,1.8,0.6,0.4,0.2,0.1,0,0,0,0,0,0,0,0,0,0,0,0,0,0,0,0,0,0,0,0,0,0,0,0,0,0,0,0,0,0,0,0,0,0,0,0,0,0,0,0,0,0,0,0,0,0,0.3,0.5,0.3],
[null,0,0.1,0.6,0.4,1.2,2.5,4.0,2.6,1.0,0.6,0.3,0.1,0,0,0,0,0,0,0,0,0,0,0,0,0,0,0,0,5.0,4.2,3.6,1.0,0.2,0,0,0,0,0.5,0.3,0,0,0,0,0,0,0,0,0,0,0.3,3.8,0.9,0.2,0,0,0,0,0,0,0],
[null,0,0.1,0.3,0.2,1.8,2.8,2.2,0.5,0.2,0.1,0,0,0,0,0,0,0,0,0,0,0,0,0,0,0,0,0,0,0,0,0,0,0,0,0,0,0,0,0.6,0,0,0,0,0,0,0,0,0,0,0,0,0,0,0,0,0,0,0,0,0],
[null,0,0.2,0.5,0.3,2.5,4.5,3.0,0.7,0.4,0.3,0.1,0,0,0,0,0,0,0,0,0,0,0,0,0,0,0,0,0,0,0,0,0,0,0.9,0.5,0,0,0,0,0,0,0,0,0,0,0,0,0,0,0,0,0,0,0,0,0,0,0,0,0],
[null,0,0.1,0.4,0.2,1.0,5.3,2.0,0.4,0.2,0.1,0,0,0,0,0,0,0,0,0,0,0,0,0,0,0,0,0,0,0,0,0,0,0,0,0,0,0,0,0,0,0,0,0,0,0,0,0,0,0,0,0,0,0,0,0,0,0.4,0,0,0],
[null,0,0.1,0.6,0.3,2.2,3.0,3.8,0.9,0.4,0.2,0.1,0,0,0,0,0,0,0,0,0,0,0.3,0,0,0,0,0,0,0,0,0,0,0,0,0,0,0,0,0,0,0,0,0,0,0,0,0,0,0,0,0,0,0,0,0,0,0.5,0,0,0],
[null,0,0.1,0.5,0.3,2.5,3.5,5.1,0.8,0.3,0.2,0,0,0,0,0,0,0,0,0,0,0,0,0,0,0,0,0,0,0,0,0,0,0,0,0,0,0,0,0,0,0,0,0,0,0,0,0,0,0,0,0,0,0,0,0,0,0,1.0,3.7,0.5],
[null,0,0.1,0.3,0.2,1.6,2.2,1.5,0.4,0.2,0.1,0,0,0,0,0,0,0,0,0,0,0,0,0,0,0,0,0,0,0,0,0,0,0,0,0,0,0,0,0,0,0,0,0.6,0.6,0,0,0,0,0,0,0,0,0,0,0,0,0,0,0,0],
[null,0,0.2,0.6,0.4,2.8,3.2,2.0,0.6,0.4,0.2,0.1,0,0,0,0,0,0,0,0,0,0,0,0,0,0,0,0,0,0,0,0,0,0,0,0,0,0,0,0,0,0,0,0,0,0,0,0,0,0,0,0,0,0,0,0,0,0,0,0,0],
[null,0,0.2,0.7,0.5,6.1,4.0,2.5,0.9,0.5,0.3,0.1,0,0,0,0,0,0,0,0,0,0,0,0,0,0,0,0,0,0,0,0,0,0,0.8,1.2,0.3,0,0,0,0,0,0,0,0,0,0,0,0,0,0,0,0,0,0,0,0,0,0,0,0],
[null,0,0.1,0.4,0.3,1.8,2.6,1.6,0.5,0.3,0.1,0,0,0,0,0,0,0,0,0,0,0,0,0,0,0,0,0,0,0,0,0,0,0,0,0,0,0,0,0,0,0,0,0,0,0,0,0,0,0,0,0,0,0,0,0,0,0,1.0,2.6,0.8],
[null,0,0.1,0.3,0.2,1.3,1.2,1.2,0.3,0.1,0,0,0,0,0,0,0,0,0,0,0,0,0,0,0,0,0,0,0,0,0,0,0,0,0,0,0,0,0,0,0,0,0,0,0,0,0,0,0,0,0,0,0,0,0,0,0,0,0,0,0],
[null,0,0.1,0.5,0.3,2.0,2.4,3.0,0.7,0.3,0.2,0,0,0,0,0,0,0,0,0,0,0,0,0,0,0,0,0,0,0,0,0,0,0,0,0,0,0,0,0,0,0,0,0,0,0,0,0,0,0,0,0,0,0.5,1.8,2.3,0.5,0,0,0,0],
[null,0,0.2,0.8,0.5,4.5,7.0,3.5,1.0,0.5,0.3,0.1,0,0,0,0,0,0,0,0,0,0,0,0,0,0,0,0,0,0,0,0,0,0,0,0,0,0,0,0,0,0,0,0,0,0,0,0,0,0,0,0.7,0.9,0.3,0,0,0,1.0,4.8,11.6,10.4],
[null,0,0.1,0.3,0.2,1.0,1.1,1.2,0.3,0.1,0,0,0,0,0,0,0,0,0,0,0,0,0.4,2.6,0.3,0,0,0,0,0,0,0,0,0,0,0,0,0,0,0,0,0,0,0,0,0,0,0,0,0,0,0,0,0,0,0,0,0,0,0,0],
[null,0,0.1,0.5,0.3,2.2,3.8,2.6,0.6,0.3,0.2,0,0,0,0,0,0,0,0,0,0,0,0,0,0,0,0,0,0,0,0,0,0,0,0,0,0,0,0,0,0,0,0,0,0,0,0,0,0,0,0,0,0,0,0,0,0,0,0,0,0],
[null,0,0.1,0.4,0.2,1.4,2.0,1.5,0.4,0.2,0.1,0,0,0,0,0,0,0,0,0,0,0,0,0,0,0,0,0,0,0,0,0,0,0,0,0,0,0,0,0,0,0,0,0,0,0,0,0,0,0,0,0,0,0,0,0,0,0,0,0,0],
[null,0,0.1,0.5,0.3,2.0,2.8,4.2,0.8,0.4,0.2,0,0,0,0,0,0,0,0,0,0,0,0,0,0,0,0,0,0,0,0,0,0,0,0,0,0,0,0,0,0,0,0,0,0,0,0,0,0,0,0,0,0,0.3,0.5,2.6,0.6,0,0,0,0],
[null,0,0.2,0.6,0.4,3.0,3.5,2.0,0.7,0.5,0.3,0.1,0,0,0,0,0,0,0,0,0,0,0,0,0,0,0,0,0,0,0,0,0,0,0,0,0,0,0,0,0,0,0,0,0,0,0,0,0,0,0,0,0,0,0,0,0.5,1.0,1.0,0.6,0.8],
[null,0,0.1,0.4,0.3,1.6,2.5,3.2,0.6,0.3,0.1,0,0,0,0,0,0,0,0,0,0,0,0,0.6,6.3,5.5,6.2,4.7,0.9,2.7,0.5,0,0,0,0,0,0,0,0,0,0,0,0,0,0,0,0,0,0,0,0,0,0,0,0,0,0,0.5,2.8,0.8,0.3],
[null,0,0.2,0.7,0.4,3.8,4.8,2.8,0.7,0.4,0.2,0.1,0,0,0,0,0,0,0,0,0,0,0,0,0,0,0,0,0,0,0,0,0,0,0,0,0,0,0,0,0,0,0,0,0,0,0,0,0,0,0,0,0,0,0,0,0,0,0,0,0],
[null,0,0.1,0.5,0.3,2.3,3.0,2.2,0.6,0.3,0.1,0,0,0,0,0,0,0,0,0,0,0,0,0,0,0,0.9,6.7,12.2,3.9,0.8,0.3,0,0,0,0,0,0,0,0,0,0,0,0,0,0,0,0,0,0,0,0.8,2.5,0.5,0,0,0,0,0,0,0],
[null,0,0.1,0.5,0.3,1.9,3.3,2.4,1.0,2.0,1.2,0.5,0.1,0,0,0,0,0,0,0,0,0,0,0,0,0,0,0,0,0,0,0,0,0.9,1.5,1.6,0.5,0,0,0,0,0,0,0,0,0,0,0,0,0,0,0,0,0,0,0,0,0,0,0,0],
[null,0,0.2,0.6,0.4,2.7,4.4,3.6,0.8,0.4,0.2,0.1,0,0,0,0,0,0,0,0,0,0,0,0,0,0,0,0,0,0,0,0,0,0,0,0,0,0,0,0,0,0,0,0,0,0,0,0,0,0,0,0,0,0,0,0,0,0,0,0,0],
[null,0,0.1,0.4,0.2,1.2,2.2,1.7,0.4,0.2,0.1,0,0,0,0,0,0,0,0,0,0,0,0,0,0,0,0,0,0,0,0,0,0.3,5.8,0.6,0,0,0,0,0,0,0,0,0,0,0,0,0,0,0,0,0,0,0,0,0,0,0,0,0,0],
[null,0,0.1,0.5,0.3,2.4,3.1,2.6,0.6,0.3,0.2,0,0,0,0,0,0,0,0,0,0,0,0,0,2.9,11.7,2.6,0.2,0,0,0,0,0,0,0,0,0,0,0,0,0,0,0,0,0,0,0,0,0,0,0,0,0,0,0,0,0,0,0,0,0],
[null,0,0.1,0.3,0.2,1.1,1.0,1.4,0.3,0.1,0,0,0,0,0,0,0,0,0,0,0,0,0,0,0,0,0,0,0,0,0,0,0,0,0,0,0,0,0,0,0,0,0,0,0,0,0,0,0,0,0,0,0,0,0,0,0,0,0.6,1.5,0.4],
[null,0,0.1,0.4,0.3,1.5,2.9,2.1,0.5,0.3,0.1,0,0,0,0,0,0,0,0,0,0,0,0,0,0,0,0,0,0,0,0,0,0,0,0,0,0,0,0,0,0,0,0,0,0,0,0,0,0,0,0,0,0,0,0,0,1.0,4.3,8.9,2.4,1.0]
];

const legendColors = ['#d09aa8','#c89ae0','#e07a80','#a0502a','#a0d0e8','#7a50b0','#c0c020','#d0b050','#7ab870','#20c070','#c04a7a','#c020c0','#e03060','#a0a8e0','#c8b080','#2060c0','#c0c060','#b0e850','#60a0d8','#60e0e8','#c04020','#a0c8a0','#c050d0','#207060','#b01828','#c09a80','#8a3078','#5a2a7a','#904050','#1a5090','#5ac090','#30e0e0','#6a20d0','#a09050','#80d080','#c0e080','#705020','#e06060','#3a2a80','#50d040','#b0d8c8','#a02840','#e890c8','#7098b0','#a030c0','#20e090','#e0e8a0','#409090','#508040','#7a50e0'];

// legend swatches
(function(){
  const leg = document.getElementById('leg');
  let h = '';
  for (let i = 0; i < 25; i++) {
    const x = 424 + i * 11.24;
    const a = String(i + 1).padStart(2, '0'), b = String(i + 26).padStart(2, '0');
    h += `<div class="n" style="left:${x}px;top:636px">${a}</div>`;
    h += `<div class="sw" style="left:${x}px;top:644px;height:7px;background:${legendColors[i]}"></div>`;
    h += `<div class="sw" style="left:${x}px;top:651px;height:7px;background:${legendColors[i+25]}"></div>`;
    h += `<div class="n" style="left:${x}px;top:660px">${b}</div>`;
  }
  leg.innerHTML = h;
})();

function series(arr){ return arr.map((v,i)=>({x:hours[i], y:v})); }
const datasets = [];
function addPanel(mean, ctrl, members, axis){
  datasets.push({data:series(mean), borderColor:'#ff0000', borderWidth:5, pointRadius:0, order:0, yAxisID:axis});
  datasets.push({data:series(ctrl), borderColor:'#000000', borderWidth:4, pointRadius:0, order:1, yAxisID:axis});
  members.forEach((m,k)=>{
    const col = legendColors[memberIds[k]-1];
    datasets.push({data:series(m), borderColor:col, backgroundColor:col, borderWidth:1, pointStyle:'cross', pointRadius:2, pointBorderColor:col, pointBorderWidth:1, order:2, yAxisID:axis});
  });
}
addPanel(t850Mean, t850Ctrl, t850Members, 'y');
addPanel(t500Mean, t500Ctrl, t500Members, 'y');
addPanel(precMean, precCtrl, precMembers, 'yR');

new Chart(document.getElementById('c'), {
  type:'line',
  data:{datasets},
  options:{
    responsive:false, animation:false, devicePixelRatio:1,
    layout:{padding:0},
    plugins:{legend:{display:false}, tooltip:{enabled:false}},
    elements:{line:{tension:0}},
    scales:{
      x:{type:'linear', min:0, max:360, position:'bottom',
        afterBuildTicks:s=>{ s.ticks = dayHours.map(v=>({value:v})); },
        afterFit:s=>{ s.height = 40; s.paddingLeft = 0; s.paddingRight = 0; },
        ticks:{callback:v=>dayLabels[dayHours.indexOf(v)], minRotation:90, maxRotation:90, autoSkip:false, padding:3, labelOffset:6,
          font:{family:'DejaVu Sans Mono', size:10}, color:'#000'},
        grid:{color:'#c0c0c0', lineWidth:1, drawTicks:false},
        border:{display:true, color:'#000', width:2}
      },
      y:{type:'linear', position:'left', min:-52.5714, max:33.1429,
        afterBuildTicks:s=>{ s.ticks = leftTicks.map(v=>({value:v})); },
        afterFit:s=>{ s.width = 50; s.paddingTop = 0; s.paddingBottom = 0; },
        ticks:{callback:v=>String(v), padding:18, font:{family:'Liberation Sans', size:11}, color:'#000'},
        grid:{drawTicks:false,
          color:c=>{ const v=c.tick?c.tick.value:null; if(v===-45) return 'rgba(0,0,0,0)'; if(v===0) return '#a0a0a0'; return '#c0c0c0'; },
          lineWidth:c=>{ const v=c.tick?c.tick.value:null; if(v===0) return 3; return (v%10===0)?2:1; }},
        border:{display:false}
      },
      yR:{type:'linear', position:'right', min:-7.5714, max:78.1429,
        afterBuildTicks:s=>{ s.ticks = rightTicks.map(v=>({value:v})); },
        afterFit:s=>{ s.width = 50; s.paddingTop = 0; s.paddingBottom = 0; },
        ticks:{callback:v=>String(v), padding:20, font:{family:'Liberation Sans', size:11}, color:'#000'},
        grid:{display:false, drawTicks:false},
        border:{display:false}
      }
    }
  }
});
</script>
</body></html>
